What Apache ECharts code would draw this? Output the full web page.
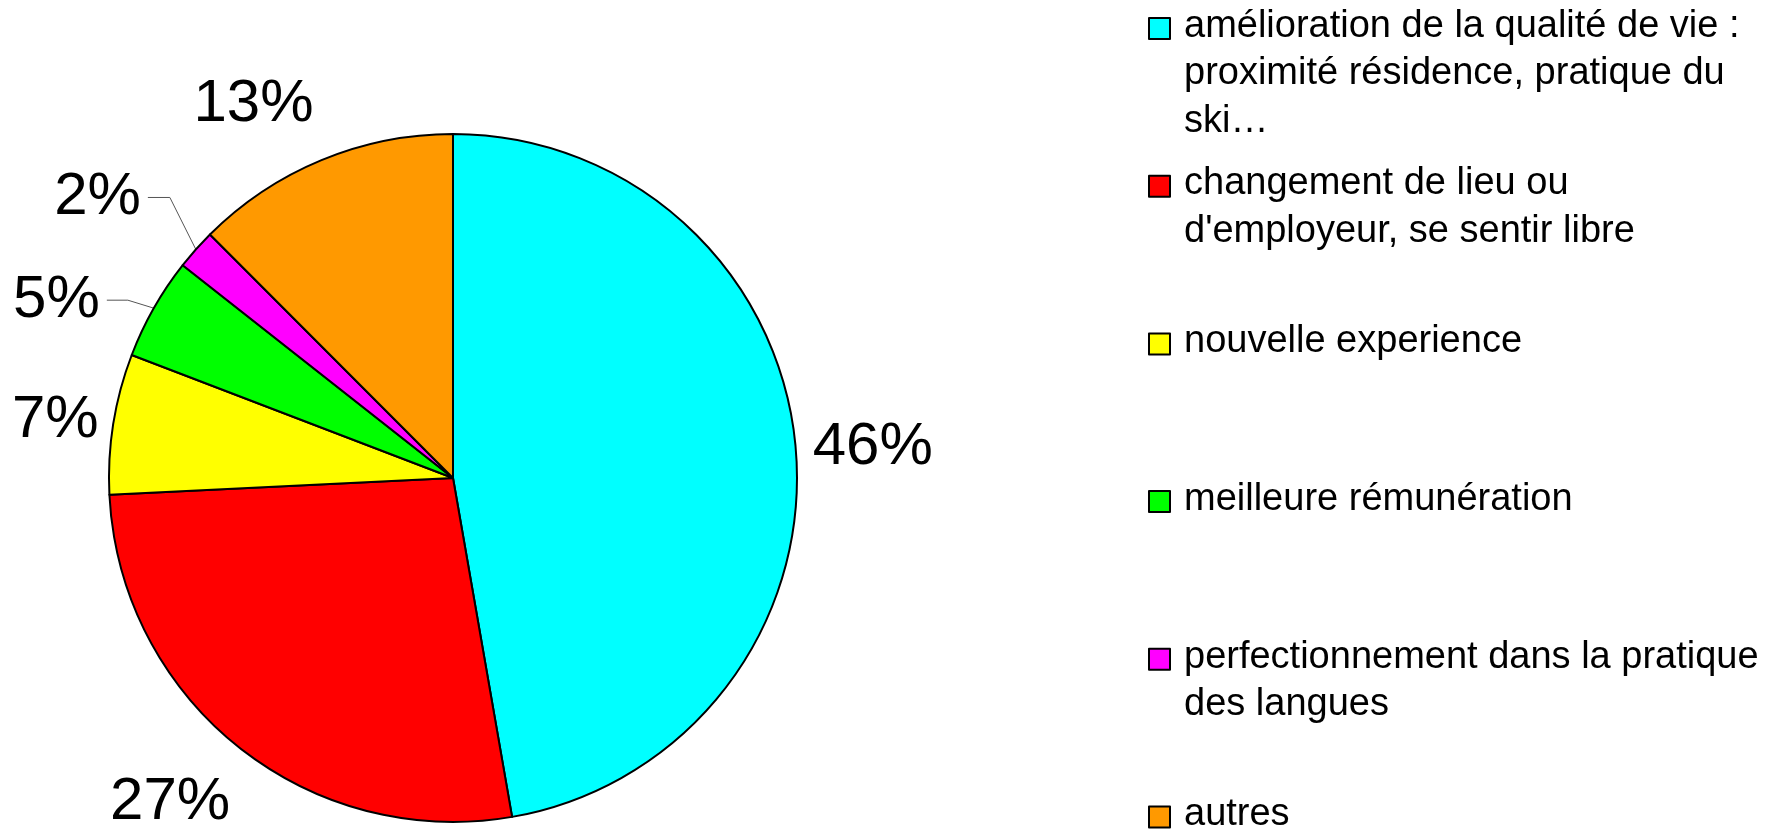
<!DOCTYPE html>
<html>
<head>
<meta charset="utf-8">
<script src="https://cdn.jsdelivr.net/npm/echarts@6/dist/echarts.min.js"></script>
<style>
    html, body { margin: 0; padding: 0; background: #fff; }
    #chart { width: 1765px; height: 829px; }
</style>
</head>
<body>
<div id="chart"></div>
<script>
const categories = [
    'amélioration de la qualité de vie :\nproximité résidence, pratique du\nski…',
    "changement de lieu ou\nd'employeur, se sentir libre",
    'nouvelle experience',
    'meilleure rémunération',
    'perfectionnement dans la pratique\ndes langues',
    'autres',
];
// share of the circle each slice takes in the picture
const shares = [47.3, 27.0, 6.6, 4.8, 1.9, 12.5];
// percentages as printed next to the slices
const percentLabels = ['46%', '27%', '7%', '5%', '2%', '13%'];
const colors = ['#00ffff', '#ff0000', '#ffff00', '#00ff00', '#ff00ff', '#ff9900'];

// label shift from the slice edge point (slices without leader line)
const labelShift = [[77, -1], [-68, 56], [-58, -3], null, null, [-68, -56]];
// leader lines for the thin slices: bend dx, bend dy, horizontal run
const leaders = {3: [-26, -8, 21], 4: [-26, -52, 22]};

// legend square sits a bit lower than the text middle: zero-length segment above it
const legendIcon = 'path://M0,-4.4L0,-4.4M0,0L21,0L21,21L0,21Z';
const LH = 47.5;
const legends = categories.map((name, i) => {
    const n = name.split('\n').length;
    const itemMid = 28.5 + i * 157.7 - 2.2;
    return {
        data: [name],
        left: 1148,
        top: itemMid - (2 * n - 1) * LH / 2,
        orient: 'vertical',
        padding: 0,
        icon: legendIcon,
        itemWidth: 21,
        itemHeight: 25.4,
        itemGap: 0,
        selectedMode: false,
        itemStyle: {borderColor: '#000', borderWidth: 2},
        // blank lines on top keep the first line level with the square
        formatter: (s) => '\n'.repeat(n - 1) + s,
        textStyle: {
            fontFamily: 'Liberation Sans',
            fontSize: 38,
            lineHeight: LH,
            color: '#000',
            padding: [0, 0, 0, 9],
        },
    };
});

const chart = echarts.init(document.getElementById('chart'));
chart.setOption({
    animation: false,
    legend: legends,
    series: [
        {
            type: 'pie',
            center: [453, 478],
            radius: 344,
            startAngle: 90,
            clockwise: true,
            avoidLabelOverlap: false,
            emphasis: {disabled: true},
            itemStyle: {borderColor: '#000', borderWidth: 2},
            label: {
                show: true,
                position: 'outside',
                overflow: 'none',
                formatter: (p) => percentLabels[p.dataIndex],
                fontFamily: 'Liberation Sans',
                fontSize: 60,
                color: '#000',
            },
            labelLine: {
                show: true,
                length: 20,
                length2: 0,
                lineStyle: {color: '#555', width: 1},
            },
            labelLayout: function (p) {
                const pts = p.labelLinePoints;
                if (!pts) return {};
                const x0 = pts[0][0];
                const y0 = pts[0][1];
                const lead = leaders[p.dataIndex];
                if (lead) {
                    const bx = x0 + lead[0];
                    const by = y0 + lead[1];
                    const ex = bx - lead[2];
                    return {
                        x: ex - 7, y: by, align: 'right', verticalAlign: 'middle',
                        labelLinePoints: [[x0, y0], [bx, by], [ex, by]],
                    };
                }
                const s = labelShift[p.dataIndex];
                return {x: x0 + s[0], y: y0 + s[1], align: 'center', verticalAlign: 'middle'};
            },
            data: categories.map((name, i) => ({
                name: name,
                value: shares[i],
                itemStyle: {color: colors[i]},
                labelLine: {lineStyle: {opacity: leaders[i] ? 1 : 0}},
            })),
        },
    ],
});
</script>
</body>
</html>
